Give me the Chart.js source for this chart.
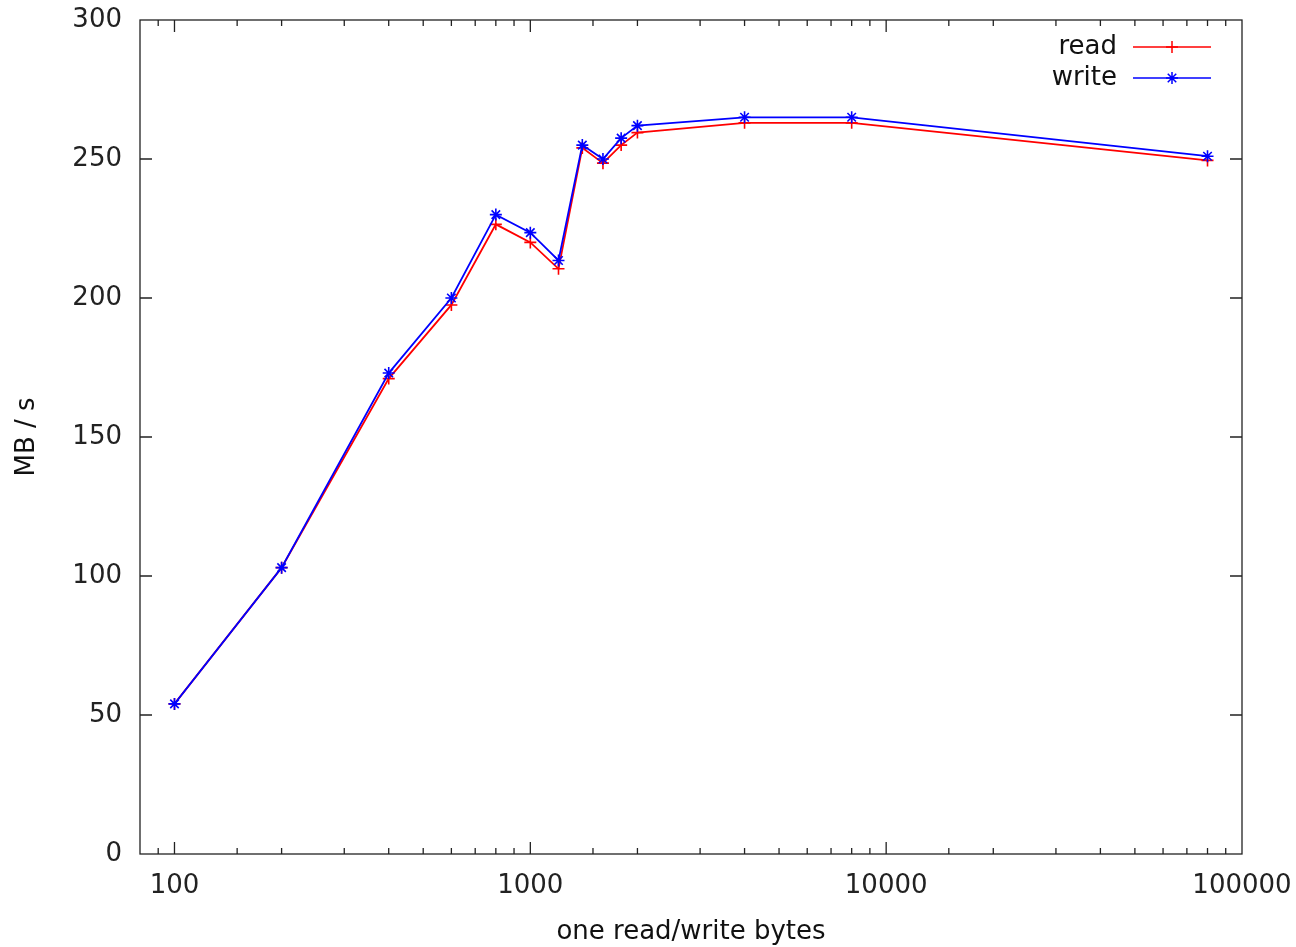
<!DOCTYPE html>
<html>
<head>
<meta charset="utf-8">
<title>read/write MB/s</title>
<script src="https://cdn.jsdelivr.net/npm/chart.js@4/dist/chart.umd.min.js"></script>
<style>
	html, body { margin: 0; padding: 0; background: #fff; overflow: hidden; }
	#grafico { display: block; }
</style>
</head>
<body>
<canvas id="grafico" width="1290" height="947"></canvas>
<script>
var bytes = [100, 200, 400, 600, 800, 1000, 1200, 1400, 1600, 1800, 2000, 4000, 8000, 80000];
var leitura = [54, 103, 171, 197.5, 226.5, 220, 210.5, 254, 248.5, 255, 259.5, 263, 263, 249.5];
var escrita = [54, 103, 173, 200, 230, 223.5, 213.5, 255, 250, 257.5, 262, 265, 265, 251];
var ticksY = [0, 50, 100, 150, 200, 250, 300];
var ticksXRotulo = [100, 1000, 10000, 100000];

var FONTE = 'DejaVu Sans';
var TAM_FONTE = 26;

function pontos(valores) {
	return bytes.map(function(b, i) {
		return { x: b, y: valores[i] };
	});
}

// gnuplot style: frame + inner ticks mirrored on all sides
var moldura = {
	id: 'moldura',
	afterDraw: function(chart) {
		var ctx = chart.ctx;
		var a = chart.chartArea;
		var sx = chart.scales.x;
		var sy = chart.scales.y;
		ctx.save();
		ctx.strokeStyle = '#222';
		ctx.lineWidth = 1.3;
		ctx.beginPath();
		sx.ticks.forEach(function(t) {
			var px = sx.getPixelForValue(t.value);
			if (px <= a.left + 1 || px >= a.right - 1) return;
			var lg = Math.log10(t.value);
			var tam = Math.abs(lg - Math.round(lg)) < 1e-9 ? 12 : 6;
			ctx.moveTo(px, a.bottom); ctx.lineTo(px, a.bottom - tam);
			ctx.moveTo(px, a.top); ctx.lineTo(px, a.top + tam);
		});
		sy.ticks.forEach(function(t) {
			var py = sy.getPixelForValue(t.value);
			if (py <= a.top + 1 || py >= a.bottom - 1) return;
			ctx.moveTo(a.left, py); ctx.lineTo(a.left + 12, py);
			ctx.moveTo(a.right, py); ctx.lineTo(a.right - 12, py);
		});
		ctx.stroke();
		ctx.strokeRect(a.left, a.top, a.right - a.left, a.bottom - a.top);
		ctx.restore();
	}
};

// legend: text on the left, line sample with marker on the right
var legenda = {
	id: 'legenda',
	afterDraw: function(chart) {
		var ctx = chart.ctx;
		var a = chart.chartArea;
		var textoX = a.right - 125;
		var linhaIni = a.right - 109;
		var linhaFim = a.right - 31;
		ctx.save();
		ctx.font = TAM_FONTE + 'px "' + FONTE + '"';
		ctx.textAlign = 'right';
		ctx.textBaseline = 'middle';
		chart.data.datasets.forEach(function(ds, i) {
			var y = a.top + 27 + i * 31;
			ctx.fillStyle = '#111';
			ctx.fillText(ds.label, textoX, y);
			ctx.strokeStyle = ds.borderColor;
			ctx.lineWidth = 1.5;
			ctx.beginPath();
			ctx.moveTo(linhaIni, y);
			ctx.lineTo(linhaFim, y);
			ctx.stroke();
			Chart.helpers.drawPoint(ctx, {
				pointStyle: ds.pointStyle,
				radius: ds.pointRadius,
				rotation: 0,
				borderWidth: ds.pointBorderWidth
			}, (linhaIni + linhaFim) / 2, y);
		});
		ctx.restore();
	}
};

var ctx = document.getElementById('grafico').getContext('2d');
var grafico = new Chart(ctx, {
	type: 'line',
	data: {
		datasets: [{
			label: 'read',
			data: pontos(leitura),
			order: 1,
			borderColor: '#ff0000',
			backgroundColor: '#ff0000',
			borderWidth: 1.8,
			pointStyle: 'cross',
			pointRadius: 6,
			pointBorderWidth: 1.6,
			tension: 0,
			fill: false
		}, {
			label: 'write',
			data: pontos(escrita),
			order: 0,
			borderColor: '#0000ff',
			backgroundColor: '#0000ff',
			borderWidth: 1.8,
			pointStyle: 'star',
			pointRadius: 6,
			pointBorderWidth: 1.6,
			tension: 0,
			fill: false
		}]
	},
	options: {
		responsive: false,
		animation: false,
		devicePixelRatio: 1,
		layout: { padding: { top: 20, right: 48, bottom: 0, left: 0 } },
		plugins: {
			legend: { display: false },
			tooltip: { enabled: false }
		},
		scales: {
			x: {
				type: 'logarithmic',
				min: 80,
				max: 100000,
				grid: { display: false, drawTicks: false },
				border: { display: false },
				ticks: {
					autoSkip: false,
					maxRotation: 0,
					minRotation: 0,
					padding: 17,
					color: '#222',
					font: { family: FONTE, size: TAM_FONTE },
					callback: function(v) {
						return ticksXRotulo.indexOf(v) >= 0 ? String(v) : '';
					}
				},
				title: {
					display: true,
					text: 'one read/write bytes',
					color: '#111',
					font: { family: FONTE, size: TAM_FONTE, lineHeight: 1.1 },
					padding: { top: 0, bottom: 0 }
				},
				afterFit: function(s) {
					s.height = 93;
					s.paddingLeft = 0;
					s.paddingRight = 0;
				}
			},
			y: {
				min: 0,
				max: 300,
				afterBuildTicks: function(s) {
					s.ticks = ticksY.map(function(v) { return { value: v }; });
				},
				grid: { display: false, drawTicks: false },
				border: { display: false },
				ticks: {
					padding: 18,
					color: '#222',
					font: { family: FONTE, size: TAM_FONTE }
				},
				title: {
					display: true,
					text: 'MB / s',
					color: '#111',
					font: { family: FONTE, size: TAM_FONTE, lineHeight: 1.2 },
					padding: { top: 12, bottom: 0 }
				},
				afterFit: function(s) {
					s.width = 140;
					s.paddingTop = 0;
					s.paddingBottom = 0;
				}
			}
		}
	},
	plugins: [moldura, legenda]
});
</script>
</body>
</html>
